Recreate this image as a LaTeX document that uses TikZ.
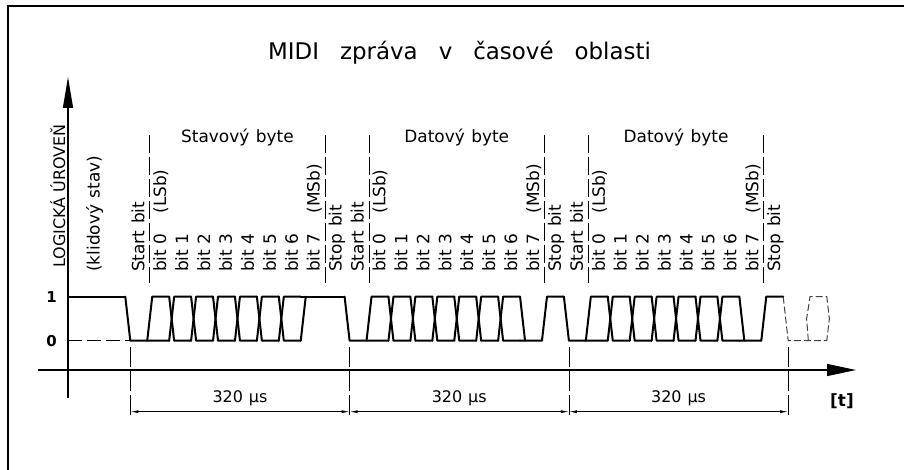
\documentclass[tikz,border=0pt]{standalone}
\usepackage{fontspec}
\setmainfont{DejaVu Sans}
\newfontfamily\cadlab{DejaVu Sans}
\newcommand\wgap{\hspace{6.5bp}}
\newcommand\tgap{\hspace{21bp}}
\usetikzlibrary{arrows.meta,calc}
\begin{document}
\begin{tikzpicture}[x=1bp,y=-1bp,
  wave/.style={line width=2bp, line cap=round, line join=round},
  dwave/.style={line width=1bp, black!75, dash pattern=on 7bp off 3bp},
  thinln/.style={line width=0.8bp},
  vdash/.style={thinln, dash pattern=on 18bp off 4bp},
  axis/.style={line width=1.2bp},
  lab/.style={font=\cadlab\fontsize{17}{20}\selectfont, inner sep=0pt},
  vlab/.style={lab, rotate=90, anchor=base west},
  dimtip/.style={{Latex[length=8bp,width=3bp]}-{Latex[length=8bp,width=3bp]}}
]
\useasboundingbox (0,0) rectangle (904,470);
\def\yT{296.7}\def\yB{340.7}\def\yM{318.7}\def\hh{2.5}\def\ww{21.93}
% frame
\draw[line width=1.6bp] (8,470) -- (8,6) -- (904,6);
% title
\node[font=\cadlab\fontsize{23}{27}\selectfont, anchor=base, inner sep=0pt] (title) at (459.5,59.3) {MIDI\tgap zpráva\tgap v\tgap časové\tgap oblasti};
% axes
\draw[axis, -{Triangle[length=31bp,width=10bp]}] (68,398) -- (68,77);
\draw[axis, -{Triangle[length=29bp,width=12bp]}] (37.5,370) -- (856,370);
\node[font=\bfseries\fontsize{15}{18}\selectfont, anchor=base, inner sep=0pt] (one) at (51.5,303) {1};
\node[font=\bfseries\fontsize{15}{18}\selectfont, anchor=base, inner sep=0pt] (zero) at (51.5,346.5) {0};
\node[font=\bfseries\fontsize{17}{20}\selectfont, inner sep=0pt] (tlab) at (842,401) {[t]};
% left labels
\node[vlab, font=\cadlab\fontsize{16}{19}\selectfont] (lvl) at (65,268) {LOGICKÁ ÚROVEŇ};
\node[vlab] (idle) at (99.5,272) {(klidový\wgap stav)};
% idle level
\draw[wave] (68,\yT) -- ({127.8-\hh},\yT);
\draw[thinln, dash pattern=on 14bp off 5bp] (68,\yB) -- ({127.8+\hh},\yB);
% bytes
\foreach \b in {0,1,2} {
  \pgfmathsetmacro{\s}{127.8+219.3*\b}
  \ifnum\b=0
    \node[lab, anchor=base] (H\b) at ({\s+5*\ww},142.7) {Stavový\wgap byte};
  \else
    \node[lab, anchor=base] (H\b) at ({\s+5*\ww},142.7) {Datový\wgap byte};
  \fi
  \draw[vdash] ({\s+\ww},135) -- ({\s+\ww},283);
  \draw[vdash] ({\s+9*\ww},135) -- ({\s+9*\ww},283);
  \foreach \k/\txt in {0/{Start\wgap bit}, 1/{bit 0\hspace{20bp}(LSb)}, 2/bit 1, 3/bit 2, 4/bit 3, 5/bit 4, 6/bit 5, 7/bit 6, 8/{bit 7\hspace{20bp}(MSb)}, 9/{Stop\wgap bit}} {
    \node[vlab] (L\b-\k) at ({\s+\ww*(\k+0.5)+5.5},272) {\txt};
  }
  \draw[wave] ({\s-\hh},\yT) -- ({\s+\hh},\yB) -- ({\s+2*\ww-\hh},\yB);
  \draw[wave] ({\s+\ww-\hh},\yB) -- ({\s+\ww+\hh},\yT) -- ({\s+2*\ww-\hh},\yT);
  \foreach \k in {2,...,7} {
    \draw[wave] ({\s+\k*\ww-\hh},\yT) -- ({\s+\k*\ww+\hh},\yB) -- ({\s+(\k+1)*\ww-\hh},\yB);
    \draw[wave] ({\s+\k*\ww-\hh},\yB) -- ({\s+\k*\ww+\hh},\yT) -- ({\s+(\k+1)*\ww-\hh},\yT);
  }
  \ifnum\b=0
    \draw[wave] ({\s+8*\ww-\hh},\yB) -- ({\s+8*\ww+\hh},\yT);
    \draw[wave] ({\s+8*\ww-\hh},\yT) -- ({\s+10*\ww-\hh},\yT);
  \else
    \draw[wave] ({\s+8*\ww-\hh},\yB) -- ({\s+9*\ww-\hh},\yB) -- ({\s+9*\ww+\hh},\yT) -- ({\s+10*\ww-\hh},\yT);
    \draw[wave] ({\s+8*\ww-\hh},\yT) -- ({\s+8*\ww+\hh},\yB);
  \fi
}
% continuation (dashed)
\pgfmathsetmacro{\sf}{127.8+219.3*3}
\draw[dwave] ({\sf-\hh},\yT) -- ({\sf+\hh},\yB) -- ({\sf+2*\ww-2.8},\yB);
\draw[dwave] ({\sf+\ww+0.7},\yB) -- ({\sf+\ww-1},\yM) -- ({\sf+\ww+2.4},\yT) -- ({\sf+2*\ww-2.8},\yT) -- ({\sf+2*\ww-0.2},\yM) -- ({\sf+2*\ww-2.8},\yB);
% dimension lines
\foreach \i in {0,1,2,3} {
  \coordinate (E\i) at ({127.8+\hh+219.3*\i},411.7);
  \draw[thinln, dash pattern=on 20bp off 4bp] ({127.8+\hh+219.3*\i},347) -- ({127.8+\hh+219.3*\i},417);
}
\foreach \i/\j in {0/1,1/2,2/3} {
  \draw[thinln, dimtip] (E\i) -- (E\j);
  \node[font=\cadlab\fontsize{16}{19}\selectfont, anchor=base, inner sep=0pt, yshift=8.7bp] (D\i) at ($(E\i)!0.5!(E\j)$) {320\hspace{6bp}µs};
}
\end{tikzpicture}
\end{document}
